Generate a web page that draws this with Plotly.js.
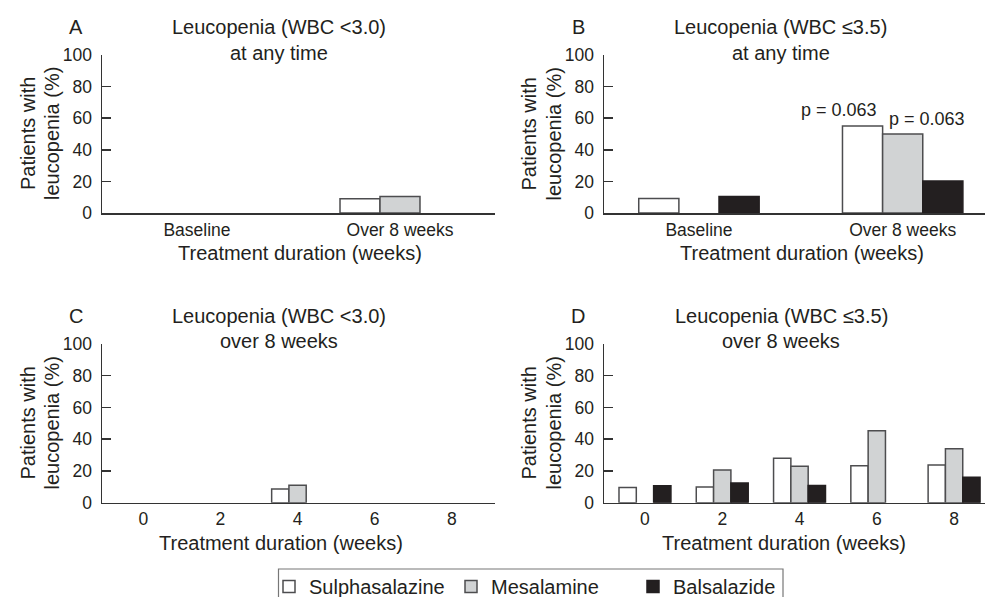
<!DOCTYPE html>
<html>
<head>
<meta charset="utf-8">
<script src="https://cdn.plot.ly/plotly-3.0.1.min.js"></script>
<style>html,body{margin:0;padding:0;background:#fff;}#chart{width:985px;height:597px;}</style>
</head>
<body>
<div id="chart"></div>
<script>
// ---- data ----
const seriesNames = ['Sulphasalazine', 'Mesalamine', 'Balsalazide'];
const catsAB = ['Baseline', 'Over 8 weeks'];
const catsCD = ['0', '2', '4', '6', '8'];
const yTicks = [0, 20, 40, 60, 80, 100];

// Panel A: WBC <3.0 at any time
const aSulpha = [0, 9];
const aMesal  = [0, 10.5];
const aBalsa  = [0, 0];
// Panel B: WBC <=3.5 at any time
const bSulpha = [9.2, 55];
const bMesal  = [0, 50];
const bBalsa  = [10.5, 20.3];
// Panel C: WBC <3.0 over 8 weeks
const cSulpha = [0, 0, 8.6, 0, 0];
const cMesal  = [0, 0, 11, 0, 0];
const cBalsa  = [0, 0, 0, 0, 0];
// Panel D: WBC <=3.5 over 8 weeks
const dSulpha = [9.5, 9.9, 28, 23.3, 23.8];
const dMesal  = [0, 20.6, 22.9, 45.4, 34];
const dBalsa  = [10.7, 12.4, 10.9, 0, 16];

const pLabels = ['p = 0.063', 'p = 0.063'];

// ---- styles ----
const W = 985, H = 597;
const FONT = 'Liberation Sans, Arial, Helvetica, sans-serif';
const TXT = '#231f20';
const fills = ['#ffffff', '#d1d3d4', '#231f20'];
const lines = ['#4d4d4f', '#4d4d4f', '#231f20'];
const px = x => x / W;
const py = y => 1 - y / H;

function makeTraces(x, ys, xa, ya, w) {
  return ys.map((y, i) => ({
    type: 'bar', x: x, y: y, name: seriesNames[i],
    xaxis: xa, yaxis: ya,
    width: w, offset: (i - 1.5) * w,
    marker: {color: fills[i], line: {color: lines[i], width: y.map(v => v > 0 ? 1.5 : 0)}},
    legendgroup: seriesNames[i], showlegend: false,
    hoverinfo: 'x+y+name'
  }));
}

const wAB = 0.197, wCD = 0.224;
// legend entries (one per series; a blank value, so they draw no bar)
const legendTraces = seriesNames.map((n, i) => ({
  type: 'bar', x: [catsAB[0]], y: [null], name: n, xaxis: 'x', yaxis: 'y',
  marker: {color: fills[i], line: {color: lines[i], width: 1.5}},
  legendgroup: n, showlegend: true, hoverinfo: 'skip'
}));
const data = [].concat(
  legendTraces,
  makeTraces(catsAB, [aSulpha, aMesal, aBalsa], 'x', 'y', wAB),
  makeTraces(catsAB, [bSulpha, bMesal, bBalsa], 'x2', 'y2', wAB),
  makeTraces(catsCD, [cSulpha, cMesal, cBalsa], 'x3', 'y3', wCD),
  makeTraces(catsCD, [dSulpha, dMesal, dBalsa], 'x4', 'y4', wCD)
);

function xax(domain, range, anchor, cats) {
  return {domain: domain, range: range, anchor: anchor, type: 'category',
    categoryorder: 'array', categoryarray: cats,
    showline: true, linecolor: '#333', linewidth: 1.5, ticks: '', showgrid: false, zeroline: false,
    tickfont: {family: FONT, size: 17.5, color: TXT}, ticklabelstandoff: 0, fixedrange: true};
}
function yax(domain, anchor) {
  return {domain: domain, range: [0, 100], anchor: anchor, tickvals: yTicks,
    showline: true, linecolor: '#333', linewidth: 1.5, ticks: 'inside', ticklen: 9, tickwidth: 1.5, tickcolor: '#333',
    showgrid: false, zeroline: false, ticklabelstandoff: 5,
    tickfont: {family: FONT, size: 17.5, color: TXT}, fixedrange: true};
}

const leftDom = [px(102), px(495)];
const rightDom = [px(604), 1];
const topDom = [py(213), py(55)];
const botDom = [py(502.7), py(344)];

const ann = [];
function txt(x, y, text, size, angle) {
  ann.push({xref: 'paper', yref: 'paper', x: px(x), y: py(y), xanchor: 'center', yanchor: 'middle',
    text: text, showarrow: false, textangle: angle || 0, font: {family: FONT, size: size, color: TXT}});
}
// panel letters + titles
txt(76, 27, 'A', 20); txt(279, 27, 'Leucopenia (WBC &lt;3.0)', 20); txt(279, 53, 'at any time', 20);
txt(578, 27, 'B', 20); txt(780.5, 27, 'Leucopenia (WBC ≤3.5)', 20); txt(780.5, 53, 'at any time', 20);
txt(76, 316, 'C', 20); txt(279, 316, 'Leucopenia (WBC &lt;3.0)', 20); txt(279, 341, 'over 8 weeks', 20);
txt(578, 316, 'D', 20); txt(781, 316, 'Leucopenia (WBC ≤3.5)', 20); txt(781, 341, 'over 8 weeks', 20);
// y titles
[[28, 52, 134], [528.5, 553.5, 134], [27.5, 51.5, 423], [528.5, 553.5, 423]].forEach(p => {
  txt(p[0], p[2], 'Patients with', 20, -90);
  txt(p[1], p[2], 'leucopenia (%)', 20, -90);
});
// x titles
txt(300, 253, 'Treatment duration (weeks)', 20);
txt(801.5, 253, 'Treatment duration (weeks)', 20);
txt(281, 543, 'Treatment duration (weeks)', 20);
txt(784, 543, 'Treatment duration (weeks)', 20);
// p values
txt(839, 110, pLabels[0], 18);
txt(927, 119, pLabels[1], 18);

const layout = {
  width: W, height: H,
  margin: {l: 0, r: 0, t: 0, b: 0, autoexpand: false},
  paper_bgcolor: '#fff', plot_bgcolor: 'rgba(0,0,0,0)',
  barmode: 'overlay',
  xaxis: xax(leftDom, [-0.468, 1.468], 'y', catsAB),
  yaxis: yax(topDom, 'x'),
  xaxis2: xax(rightDom, [-0.466, 1.404], 'y2', catsAB),
  yaxis2: yax(topDom, 'x2'),
  xaxis3: xax(leftDom, [-0.536, 4.56], 'y3', catsCD),
  yaxis3: yax(botDom, 'x3'),
  xaxis4: xax(rightDom, [-0.53, 4.40], 'y4', catsCD),
  yaxis4: yax(botDom, 'x4'),
  showlegend: true,
  legend: {orientation: 'h', x: px(269), xanchor: 'left', y: py(567), yanchor: 'top',
    borderwidth: 0, bgcolor: 'rgba(0,0,0,0)',
    font: {family: FONT, size: 20, color: TXT}, entrywidth: 137, entrywidthmode: 'pixels',
    traceorder: 'normal', itemclick: false, itemdoubleclick: false},
  shapes: [{type: 'rect', xref: 'paper', yref: 'paper', x0: px(278.5), x1: px(783), y0: py(605), y1: py(569),
    line: {color: '#777', width: 1.2}, fillcolor: 'rgba(0,0,0,0)', layer: 'below'}],
  annotations: ann,
  font: {family: FONT, color: TXT}
};

Plotly.newPlot('chart', data, layout, {displayModeBar: false, staticPlot: true});
</script>
</body>
</html>
